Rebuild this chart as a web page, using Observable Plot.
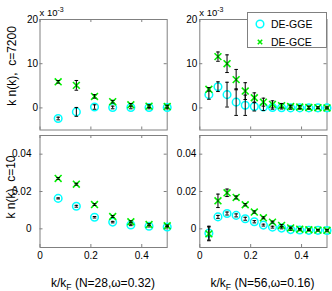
<!DOCTYPE html>
<html><head><meta charset="utf-8">
<script src="https://cdn.jsdelivr.net/npm/d3@7"></script>
<script src="https://cdn.jsdelivr.net/npm/@observablehq/plot@0.6"></script>
<style>
body{margin:0;background:#fff}
#wrap{position:relative;width:332px;height:291px;overflow:hidden;font-family:"Liberation Sans",Arial,sans-serif;color:#000}
#wrap svg{position:absolute;left:0;top:0}
.lbl{position:absolute;white-space:nowrap;font-size:12px;line-height:12px;transform:translate(-50%,-50%)}
.rot{transform:translate(-50%,-50%) rotate(-90deg)}
.lbl sub{font-size:8.5px;line-height:0;vertical-align:-3px}
.exp{position:absolute;white-space:nowrap;font-size:9.5px;line-height:10px}
.exp sup{font-size:7px;line-height:0;vertical-align:4px}
#legend{position:absolute;left:247px;top:12px;width:80px;height:36px;border:1px solid #808080;background:#fff;box-sizing:border-box}
</style></head><body><div id="wrap"></div>
<script>
// ---- data ----
const kN28 = [0.0714, 0.1429, 0.2143, 0.2857, 0.3571, 0.4286, 0.5];
const kN56 = [0.0357, 0.0714, 0.1071, 0.1429, 0.1786, 0.2143, 0.25, 0.2857, 0.3214, 0.3571, 0.3929, 0.4286, 0.4643, 0.5];

// c = 7200 (values in units of 1e-3)
const c7200N28GGE    = [-2.4, -0.9, 0.2, 0.1, 0.1, 0.1, 0.1];
const c7200N28GGEerr = [0.3, 1.0, 0.5, 0.3, 0.3, 0.3, 0.3];
const c7200N28GCE    = [5.9, 5.1, 2.6, 1.4, 0.7, 0.4, 0.3];
const c7200N28GCEerr = [0.3, 1.1, 0.4, 0.3, 0.3, 0.3, 0.3];

const c7200N56GGE    = [3.0, 4.8, 3.0, 1.3, 0.6, 0.3, 0.2, 0.1, 0.05, 0, 0, 0, 0, 0];
const c7200N56GGEerr = [1.05, 1.1, 2.8, 3.0, 2.3, 1.0, 0.8, 0.4, 0.3, 0.3, 0.3, 0.3, 0.2, 0.2];
const c7200N56GCE    = [4.2, 11.6, 10.0, 6.4, 3.8, 2.3, 1.3, 0.8, 0.5, 0.3, 0.2, 0.1, 0.05, 0.0];
const c7200N56GCEerr = [0.4, 1.05, 2.0, 2.3, 1.9, 1.1, 0.9, 0.8, 0.5, 0.3, 0.3, 0.3, 0.2, 0.2];

// c = 10
const c10N28GGE    = [0.0163, 0.0121, 0.0062, 0.0036, 0.0021, 0.0014, 0.0010];
const c10N28GGEerr = [0.0003, 0.0005, 0.0004, 0.0004, 0.0004, 0.0004, 0.0004];
const c10N28GCE    = [0.0270, 0.0239, 0.0130, 0.0066, 0.0038, 0.0023, 0.0016];
const c10N28GCEerr = [0.0005, 0.0005, 0.0005, 0.0005, 0.0005, 0.0004, 0.0004];

const c10N56GGE    = [-0.0023, 0.0064, 0.0082, 0.0072, 0.0054, 0.0038, 0.0020, 0.0009, 0.0004, -0.0004, -0.0006, -0.0008, -0.0008, -0.0009];
const c10N56GGEerr = [0.0037, 0.0008, 0.0008, 0.0008, 0.0008, 0.0006, 0.0005, 0.0005, 0.0004, 0.0004, 0.0004, 0.0004, 0.0004, 0.0004];
const c10N56GCE    = [-0.0027, 0.0150, 0.0193, 0.0168, 0.0129, 0.0090, 0.0059, 0.0036, 0.0018, 0.0005, -0.0002, -0.0005, -0.0007, -0.0008];
const c10N56GCEerr = [0.0037, 0.0036, 0.0020, 0.0008, 0.0006, 0.0006, 0.0005, 0.0005, 0.0005, 0.0004, 0.0004, 0.0004, 0.0004, 0.0004];

// ticks
const xTicks = [0, 0.2, 0.4];
const xTickLabels = ["0", "0.2", "0.4"];
const yTicksTop = [0, 10, 20];
const yTickLabelsTop = ["0", "10", "20"];
const yTicksBottom = [0, 0.02, 0.04];
const yTickLabelsBottom = ["0", "0.02", "0.04"];

const seriesNames = ["DE-GGE", "DE-GCE"];
const xAxisLabels = ["(N=28,\u03c9=0.32)", "(N=56,\u03c9=0.16)"];
const yAxisLabels = ["k n(k),  c=7200", "k n(k), c=10"];

// ---- drawing ----
const W = 332, H = 291;
const CYAN = "#00ffff", GREEN = "#00ee00", GRAY = "#808080";
const FONT = "'Liberation Sans', Arial, sans-serif";
const capSymbol = {draw(ctx, size) { const w = Math.sqrt(size / Math.PI); ctx.moveTo(-w, 0); ctx.lineTo(w, 0); }};

function panel({l, r, t, b, k, gge, ggeErr, gce, gceErr, yDomain, yTicks, yLabels, showX, yPad}) {
  const rows = k.map((x, i) => ({x, gge: gge[i], ggeErr: ggeErr[i], gce: gce[i], gceErr: gceErr[i]}));
  const iw = r - l, ih = b - t;
  const errMarks = (key, ekey) => [
    Plot.ruleX(rows, {x: "x", y1: d => d[key] - d[ekey], y2: d => d[key] + d[ekey], stroke: "#000", strokeWidth: 1}),
    Plot.dot(rows, {x: "x", y: d => d[key] + d[ekey], symbol: capSymbol, r: 1.8, stroke: "#000", strokeWidth: 1}),
    Plot.dot(rows, {x: "x", y: d => d[key] - d[ekey], symbol: capSymbol, r: 1.8, stroke: "#000", strokeWidth: 1})
  ];
  return Plot.plot({
    width: W, height: H,
    marginLeft: l, marginRight: W - r, marginTop: t, marginBottom: H - b,
    style: {background: "none", fontFamily: FONT, fontSize: "10px", color: "#000", overflow: "visible"},
    x: {domain: [0, 0.5], axis: null},
    y: {domain: yDomain, axis: null},
    marks: [
      Plot.frame({stroke: GRAY}),
      Plot.tickX(xTicks, {x: d => d, insetTop: ih - 3, stroke: GRAY}),
      Plot.tickX(xTicks, {x: d => d, insetBottom: ih - 3, stroke: GRAY}),
      Plot.tickY(yTicks, {y: d => d, insetRight: iw - 3, stroke: GRAY}),
      Plot.tickY(yTicks, {y: d => d, insetLeft: iw - 3, stroke: GRAY}),
      Plot.axisY(yTicks, {tickSize: 0, tickPadding: yPad, tickFormat: d => yLabels[yTicks.indexOf(d)], label: null, fill: "#000"}),
      showX ? Plot.axisX(xTicks, {tickSize: 0, tickPadding: 4, tickFormat: d => xTickLabels[xTicks.indexOf(d)], label: null, fill: "#000"}) : null,
      Plot.dot(rows, {x: "x", y: "gge", r: 3.8, stroke: CYAN, strokeWidth: 1.5, fill: "none"}),
      ...errMarks("gge", "ggeErr"),
      Plot.dot(rows, {x: "x", y: "gce", symbol: "times", r: 3.2, stroke: GREEN, strokeWidth: 1.6}),
      ...errMarks("gce", "gceErr")
    ]
  });
}

const wrap = document.getElementById("wrap");
const L = [39.5, 166.7], R = [199.3, 326.5], T = [19, 129.5], B = [135, 247];
wrap.append(
  panel({l: L[0], r: L[1], t: T[0], b: T[1], k: kN28, gge: c7200N28GGE, ggeErr: c7200N28GGEerr, gce: c7200N28GCE, gceErr: c7200N28GCEerr,
         yDomain: [-5, 20], yTicks: yTicksTop, yLabels: yTickLabelsTop, showX: false, yPad: 2}),
  panel({l: R[0], r: R[1], t: T[0], b: T[1], k: kN56, gge: c7200N56GGE, ggeErr: c7200N56GGEerr, gce: c7200N56GCE, gceErr: c7200N56GCEerr,
         yDomain: [-5, 20], yTicks: yTicksTop, yLabels: yTickLabelsTop, showX: false, yPad: 2.5}),
  panel({l: L[0], r: L[1], t: B[0], b: B[1], k: kN28, gge: c10N28GGE, ggeErr: c10N28GGEerr, gce: c10N28GCE, gceErr: c10N28GCEerr,
         yDomain: [-0.01, 0.05], yTicks: yTicksBottom, yLabels: yTickLabelsBottom, showX: true, yPad: 8.5}),
  panel({l: R[0], r: R[1], t: B[0], b: B[1], k: kN56, gge: c10N56GGE, ggeErr: c10N56GGEerr, gce: c10N56GCE, gceErr: c10N56GCEerr,
         yDomain: [-0.01, 0.05], yTicks: yTicksBottom, yLabels: yTickLabelsBottom, showX: true, yPad: 3.5})
);

function addLabel(html, x, y, cls) {
  const d = document.createElement("div");
  d.className = cls; d.innerHTML = html;
  d.style.left = x + "px"; d.style.top = y + "px";
  wrap.append(d);
}
addLabel("k/k<sub>F</sub> " + xAxisLabels[0], 103, 282.5, "lbl");
addLabel("k/k<sub>F</sub> " + xAxisLabels[1], 262.5, 282.5, "lbl");
addLabel(yAxisLabels[0].replace("  ", "&nbsp; "), 12, 66, "lbl rot");
addLabel(yAxisLabels[1], 10.5, 187, "lbl rot");
addLabel("x 10<sup>-3</sup>", 39.5, 7.5, "exp");
addLabel("x 10<sup>-3</sup>", 199.3, 7.5, "exp");

// legend
const lg = document.createElement("div");
lg.id = "legend";
const ns = "http://www.w3.org/2000/svg";
const ls = document.createElementNS(ns, "svg");
ls.setAttribute("width", 80); ls.setAttribute("height", 36);
ls.style.position = "absolute"; ls.style.left = "-1px"; ls.style.top = "-1px";
ls.innerHTML =
  `<circle cx="13" cy="12" r="3.8" fill="none" stroke="${CYAN}" stroke-width="1.5"/>` +
  `<path d="M10.8,27.8L15.2,32.2M15.2,27.8L10.8,32.2" stroke="${GREEN}" stroke-width="1.6"/>` +
  `<text x="24" y="15.8" font-size="10.5" font-family="${FONT}" fill="#000">${seriesNames[0]}</text>` +
  `<text x="24" y="34" font-size="10.5" font-family="${FONT}" fill="#000">${seriesNames[1]}</text>`;
lg.append(ls);
wrap.append(lg);
</script></body></html>
